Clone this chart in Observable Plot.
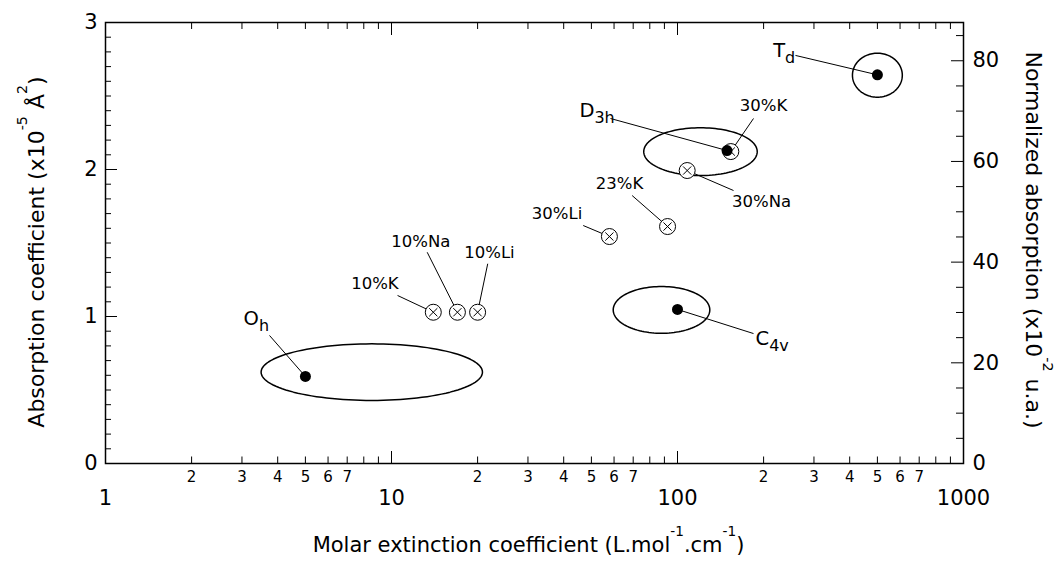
<!DOCTYPE html>
<html><head><meta charset="utf-8">
<script src="https://cdn.jsdelivr.net/npm/d3@7"></script>
<script src="https://cdn.jsdelivr.net/npm/@observablehq/plot@0.6"></script>
<style>body{margin:0;background:#fff;} svg{display:block;}</style>
</head><body><div id="chart"></div>
<script>
// ---- Symmetry sites (filled dots + ellipses) ----
const symNames = ["O_{h}", "C_{4v}", "D_{3h}", "T_{d}"];
const symX = [5, 100, 149, 500];
const symY = [0.592, 1.048, 2.129, 2.644];
const ellXMin = [3.50, 59.6, 76.2, 409];
const ellXMax = [20.8, 129.7, 190.0, 611];
const ellYMin = [0.429, 0.886, 1.959, 2.492];
const ellYMax = [0.814, 1.204, 2.284, 2.791];
const symLabelX = [3.04, 187.4, 45.4, 216];
const symLabelY = [0.986, 0.850, 2.401, 2.810];
const symLeaderX = [3.745, 184.4, 58.3, 258.5];
const symLeaderY = [0.871, 0.884, 2.347, 2.776];

// ---- Doped samples (circled crosses) ----
const dopNames = ["10%K", "10%Na", "10%Li", "30%Li", "23%K", "30%Na", "30%K"];
const dopX = [14, 17, 20, 57.8, 92.3, 108.1, 153.6];
const dopY = [1.029, 1.029, 1.029, 1.544, 1.612, 1.993, 2.122];
const dopLabelX = [8.75, 12.66, 22.0, 37.9, 62.7, 196.7, 200];
const dopLabelY = [1.222, 1.512, 1.437, 1.699, 1.903, 1.778, 2.435];
const dopLeaderX = [10.5, 13.33, 21.7, 46.8, 69.4, 157, 184.4];
const dopLeaderY = [1.143, 1.437, 1.359, 1.619, 1.823, 1.857, 2.347];

// ---- Axes ----
const xMajor = [1, 10, 100, 1000];
const xMajorLabels = ["1", "10", "100", "1000"];
const xMinor = [2,3,4,5,6,7,8,9,20,30,40,50,60,70,80,90,200,300,400,500,600,700,800,900];
const xMinorLabeled = [2,3,4,5,6,7,20,30,40,50,60,70,200,300,400,500,600,700];
const xMinorLabels = ["2","3","4","5","6","7","2","3","4","5","6","7","2","3","4","5","6","7"];
const yMajor = [0, 1, 2, 3];
const yMinor = d3.range(1, 30).filter(v => v % 10 !== 0).map(v => v / 10);
const rightMajor = [0, 20, 40, 60, 80];
const rightMinor = [5, 10, 15, 25, 30, 35, 45, 50, 55, 65, 70, 75, 85];
const K = 29.2; // right-axis units per left-axis unit
const xTitle = "Molar extinction coefficient (L.mol^{-1}.cm^{-1})";
const yTitle = "Absorption coefficient (x10^{-5} Å^{2})";
const y2Title = "Normalized absorption (x10^{-2} u.a.)";

const sym = symNames.map((name, i) => ({name, x: symX[i], y: symY[i], lx: symLabelX[i], ly: symLabelY[i], ax: symLeaderX[i], ay: symLeaderY[i]}));
const dop = dopNames.map((name, i) => ({name, x: dopX[i], y: dopY[i], lx: dopLabelX[i], ly: dopLabelY[i], ax: dopLeaderX[i], ay: dopLeaderY[i]}));

const ellPts = [];
symNames.forEach((name, i) => {
  const a = Math.log10(ellXMin[i]), b = Math.log10(ellXMax[i]);
  const cy = (ellYMin[i] + ellYMax[i]) / 2, ry = (ellYMax[i] - ellYMin[i]) / 2;
  for (let k = 0; k < 120; k++) {
    const t = 2 * Math.PI * k / 120;
    ellPts.push({id: name, x: 10 ** ((a + b) / 2 + (b - a) / 2 * Math.cos(t)), y: cy + ry * Math.sin(t)});
  }
});

const FF = "DejaVu Sans";
const noText = () => "";
const T = {fontFamily: FF, lineAnchor: "middle"};
const plot = Plot.plot({
  width: 1059, height: 562,
  marginTop: 22, marginRight: 96, marginBottom: 99, marginLeft: 105,
  x: {type: "log", domain: [1, 1000]},
  y: {domain: [0, 3]},
  style: {fontFamily: FF, color: "black", background: "white"},
  marks: [
    Plot.line(ellPts, {x: "x", y: "y", z: "id", curve: "linear-closed", stroke: "black", strokeWidth: 1.5}),
    Plot.link(sym, {x1: "ax", y1: "ay", x2: "x", y2: "y", stroke: "black", strokeWidth: 1}),
    Plot.link(dop, {x1: "ax", y1: "ay", x2: "x", y2: "y", stroke: "black", strokeWidth: 1}),
    Plot.dot(dop, {x: "x", y: "y", r: 8, fill: "white", stroke: "black", strokeWidth: 1}),
    Plot.dot(dop, {x: "x", y: "y", r: 3.8, symbol: "times", stroke: "black", strokeWidth: 1}),
    Plot.dot(sym, {x: "x", y: "y", r: 5.5, fill: "black", stroke: "none"}),
    Plot.text(dop, {x: "lx", y: "ly", text: "name", textAnchor: "middle", fontSize: 16.5, ...T}),
    Plot.text(sym, {x: "lx", y: "ly", text: "name", textAnchor: "start", fontSize: 19.5, ...T}),
    Plot.frame({stroke: "black", strokeWidth: 1.5}),
    Plot.axisX(xMajor, {anchor: "bottom", tickSize: -12, tickFormat: noText, label: null}),
    Plot.axisX(xMinor, {anchor: "bottom", tickSize: -6.5, tickFormat: noText, label: null}),
    Plot.axisX(xMajor, {anchor: "top", tickSize: -12, tickFormat: noText, label: null}),
    Plot.axisX(xMinor, {anchor: "top", tickSize: -6, tickFormat: noText, label: null}),
    Plot.axisY(yMajor, {anchor: "left", tickSize: -12, tickFormat: noText, label: null}),
    Plot.axisY(yMinor, {anchor: "left", tickSize: -6, tickFormat: noText, label: null}),
    Plot.axisY(rightMajor.map(v => v / K), {anchor: "right", tickSize: -13, tickFormat: noText, label: null}),
    Plot.axisY(rightMinor.map(v => v / K), {anchor: "right", tickSize: -8, tickFormat: noText, label: null}),
    Plot.text(xMajor, {x: d => d, text: (d, i) => xMajorLabels[i], frameAnchor: "bottom", dy: 35, textAnchor: "middle", fontSize: 21, ...T}),
    Plot.text(xMinorLabeled, {x: d => d, text: (d, i) => xMinorLabels[i], frameAnchor: "bottom", dy: 14, textAnchor: "middle", fontSize: 15, ...T}),
    Plot.text(yMajor, {y: d => d, text: d => String(d), frameAnchor: "left", dx: -8, textAnchor: "end", fontSize: 21, ...T}),
    Plot.text(rightMajor, {y: d => d / K, text: d => String(d), frameAnchor: "right", dx: 9, textAnchor: "start", fontSize: 21, ...T}),
    Plot.text([xTitle], {text: d => d, frameAnchor: "bottom", dy: 82, dx: -6, textAnchor: "middle", fontSize: 21, ...T}),
    Plot.text([yTitle], {text: d => d, frameAnchor: "left", dx: -69, dy: 9, rotate: -90, textAnchor: "middle", fontSize: 22, ...T}),
    Plot.text([y2Title], {text: d => d, frameAnchor: "right", dx: 70, dy: -3, rotate: 90, textAnchor: "middle", fontSize: 22, ...T})
  ]
});
document.getElementById("chart").appendChild(plot);

// Rich text: ^{...} superscript, _{...} subscript
function richify(svg) {
  const NS = "http://www.w3.org/2000/svg";
  svg.querySelectorAll("text").forEach(t => {
    const s = t.textContent;
    if (!/[_^]\{/.test(s)) return;
    const fs = parseFloat(getComputedStyle(t).fontSize) || 16;
    while (t.firstChild) t.removeChild(t.firstChild);
    const re = /([_^])\{([^}]*)\}/g;
    let last = 0, m, pending = 0;
    const add = (str, size, dy) => {
      if (!str) return;
      const sp = document.createElementNS(NS, "tspan");
      if (size) sp.setAttribute("font-size", size);
      if (dy) sp.setAttribute("dy", dy);
      sp.textContent = str;
      t.appendChild(sp);
    };
    while ((m = re.exec(s))) {
      add(s.slice(last, m.index), null, pending); pending = 0;
      if (m[1] === "^") { add(m[2], 0.65 * fs, -0.75 * fs); pending = 0.75 * fs; }
      else { add(m[2], 0.82 * fs, 0.32 * fs); pending = -0.32 * fs; }
      last = re.lastIndex;
    }
    add(s.slice(last), null, pending);
  });
}
richify(plot);
</script>
</body></html>
